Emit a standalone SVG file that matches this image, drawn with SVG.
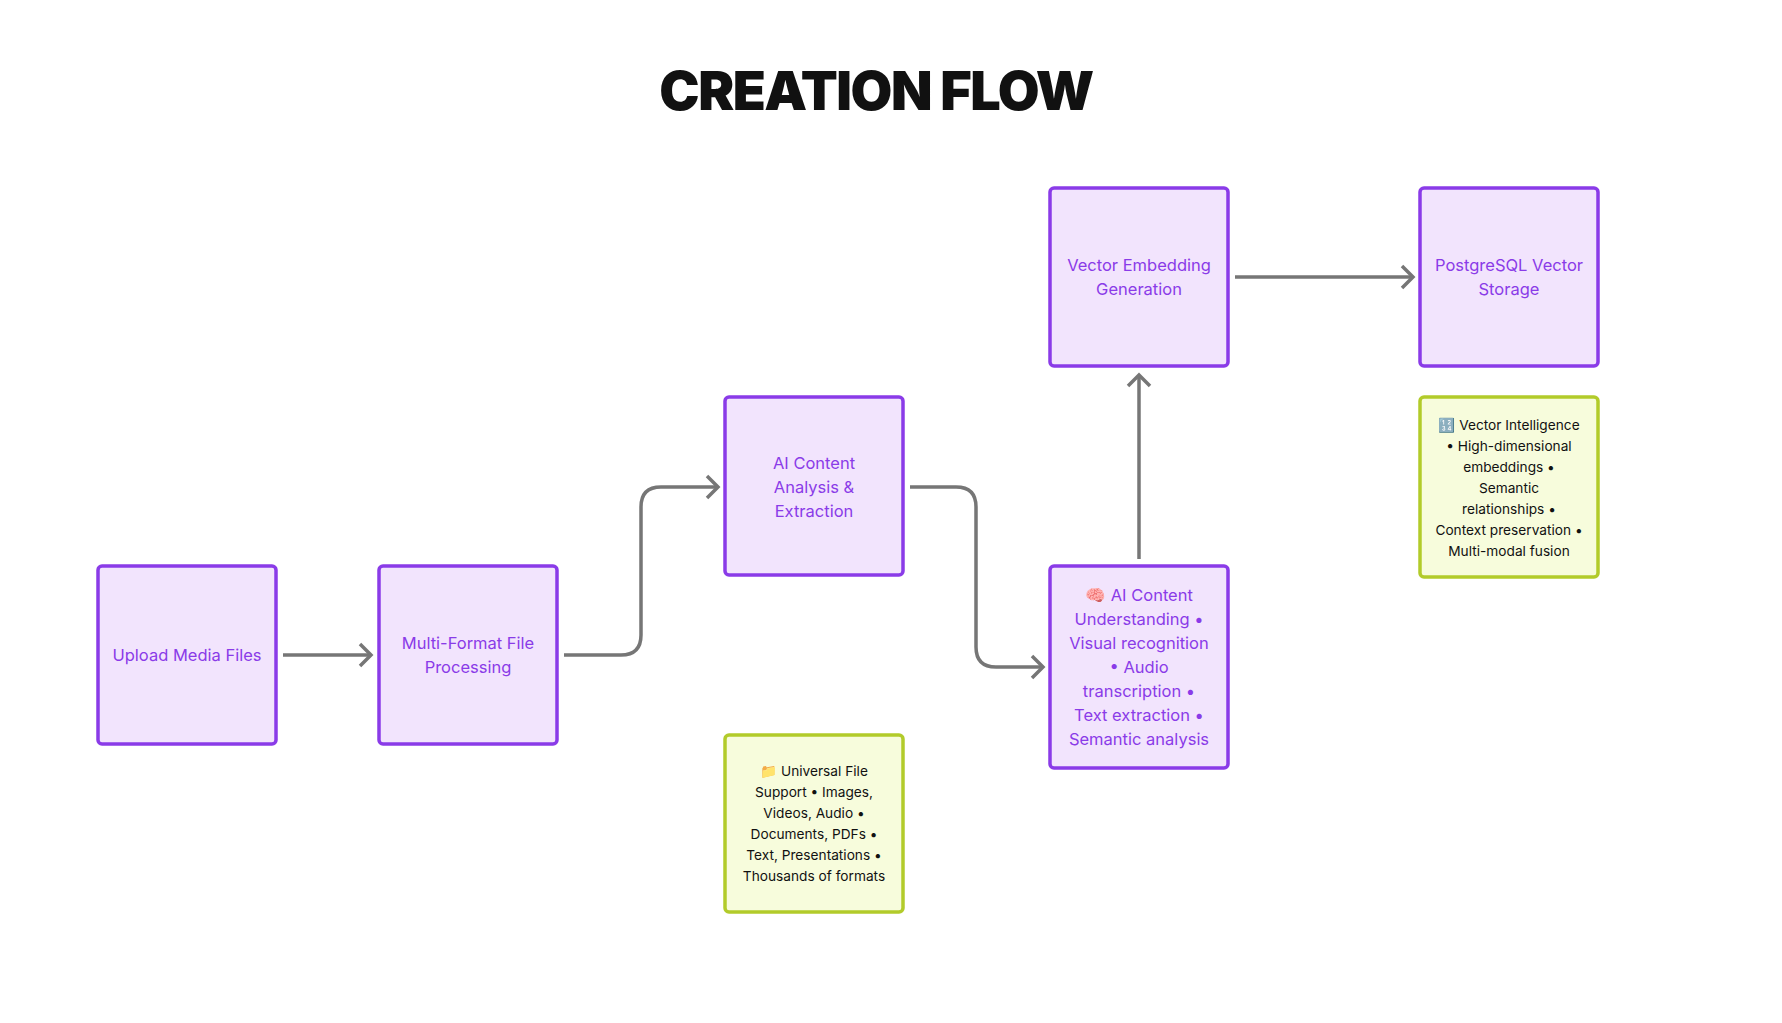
<svg xmlns="http://www.w3.org/2000/svg" width="1782" height="1023" viewBox="0 0 1782 1023">
<style>
.n rect{fill:#f2e4fd;stroke:#8a3be8;stroke-width:3.5}
.n text{fill:#8a3be8;font-family:Inter,"Noto Sans",sans-serif;font-size:16.5px;text-anchor:middle}
.k rect{fill:#f7fcdc;stroke:#b2cb2a;stroke-width:3.5}
.k text{fill:#111;font-family:Inter,"Noto Sans",sans-serif;font-size:13.7px;text-anchor:middle}
.c path{fill:none;stroke:#767676;stroke-width:3.5}
</style>
<defs>
<marker id="a" markerWidth="16" markerHeight="26" refX="13" refY="13" orient="auto" markerUnits="userSpaceOnUse">
<path d="M2,2 L13,13 L2,24" fill="none" stroke="#767676" stroke-width="3.5"/>
</marker>
</defs>
<rect width="1782" height="1023" fill="#fff"/>
<text x="876" y="110" font-family="Inter,'Noto Sans',sans-serif" font-size="54" font-weight="900" text-anchor="middle" letter-spacing="-1.5" fill="#111">CREATION FLOW</text>
<g transform="translate(-3,-3)">
<g class="c">
<path d="M286,658 H374" marker-end="url(#a)"/>
<path d="M567,658 H624 Q644,658 644,638 V510 Q644,490 664,490 H721" marker-end="url(#a)"/>
<path d="M913,490 H959 Q979,490 979,510 V650 Q979,670 999,670 H1046" marker-end="url(#a)"/>
<path d="M1142,562 V378" marker-end="url(#a)"/>
<path d="M1238,280 H1416" marker-end="url(#a)"/>
</g>
<g id="upload" class="n"><rect x="101" y="569" width="178" height="178" rx="4"/><text x="190" y="664">Upload Media Files</text></g>
<g id="multi" class="n"><rect x="382" y="569" width="178" height="178" rx="4"/><text x="471" y="652">Multi-Format File</text><text x="471" y="676">Processing</text></g>
<g id="analysis" class="n"><rect x="728" y="400" width="178" height="178" rx="4"/><text x="817" y="472">AI Content</text><text x="817" y="496">Analysis &amp;</text><text x="817" y="520">Extraction</text></g>
<g id="embed" class="n"><rect x="1053" y="191" width="178" height="178" rx="4"/><text x="1142" y="274">Vector Embedding</text><text x="1142" y="298">Generation</text></g>
<g id="pg" class="n"><rect x="1423" y="191" width="178" height="178" rx="4"/><text x="1512" y="274">PostgreSQL Vector</text><text x="1512" y="298">Storage</text></g>
<g id="understand" class="n"><rect x="1053" y="569" width="178" height="202" rx="4"/>
<text x="1142" y="604">🧠 AI Content</text><text x="1142" y="628">Understanding •</text><text x="1142" y="652">Visual recognition</text><text x="1142" y="676">• Audio</text><text x="1142" y="700">transcription •</text><text x="1142" y="724">Text extraction •</text><text x="1142" y="748">Semantic analysis</text></g>
<g id="vi" class="k"><rect x="1423" y="400" width="178" height="180" rx="4"/>
<text x="1512" y="433">🔢 Vector Intelligence</text><text x="1512" y="454">• High-dimensional</text><text x="1512" y="475">embeddings •</text><text x="1512" y="496">Semantic</text><text x="1512" y="517">relationships •</text><text x="1512" y="538">Context preservation •</text><text x="1512" y="559">Multi-modal fusion</text></g>
<g id="uf" class="k"><rect x="728" y="738" width="178" height="177" rx="4"/>
<text x="817" y="779">📁 Universal File</text><text x="817" y="800">Support • Images,</text><text x="817" y="821">Videos, Audio •</text><text x="817" y="842">Documents, PDFs •</text><text x="817" y="863">Text, Presentations •</text><text x="817" y="884">Thousands of formats</text></g>
</g>
</svg>
